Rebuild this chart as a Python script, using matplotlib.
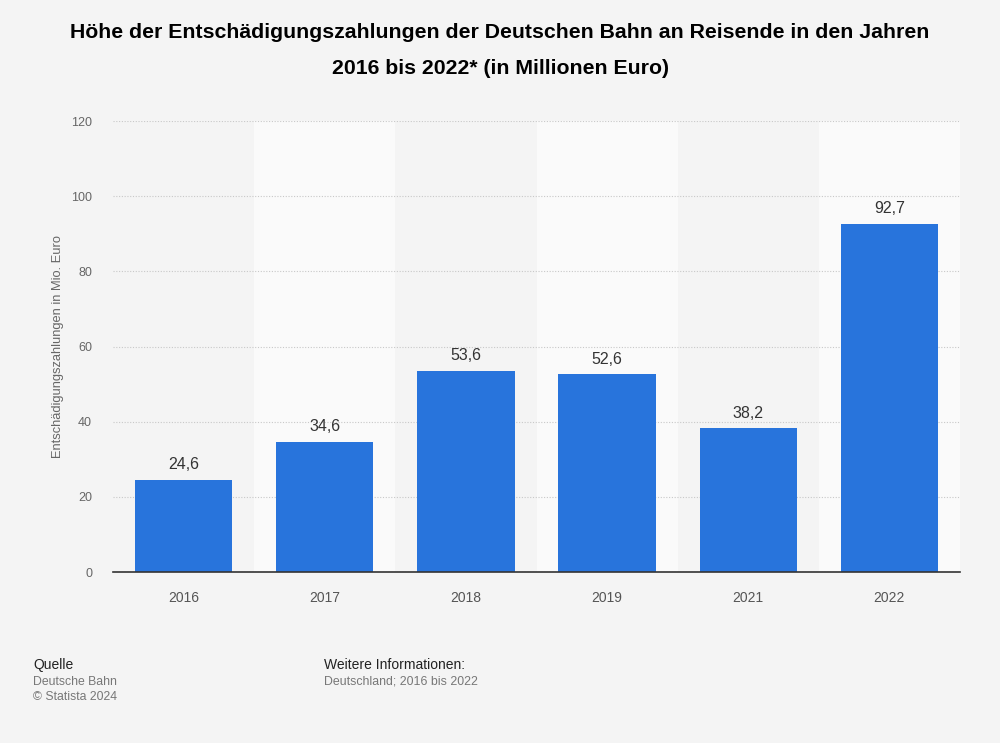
import matplotlib.pyplot as plt
import numpy as np

plt.rcParams['font.family'] = ['Liberation Sans', 'DejaVu Sans']

# Data
years = ["2016", "2017", "2018", "2019", "2021", "2022"]
payments = [24.6, 34.6, 53.6, 52.6, 38.2, 92.7]
yticks = [0, 20, 40, 60, 80, 100, 120]

bg = "#f4f4f4"
fig = plt.figure(figsize=(10, 7.43), dpi=100, facecolor=bg)
ax = fig.add_axes([0.113, 0.2301, 0.847, 0.607])
ax.set_facecolor(bg)

x = np.arange(len(years))

# lighter bands behind every second category
for i in x:
    if i % 2 == 1:
        ax.axvspan(i - 0.5, i + 0.5, color="#fafafa", zorder=0, lw=0)

ax.bar(x, payments, 0.69, color="#2874dc", zorder=3)

for xi, v in zip(x, payments):
    ax.text(xi, v + 2.0, f"{v:.1f}".replace(".", ","), ha="center", va="bottom",
            fontsize=11.5, color="#333333", zorder=4)

ax.set_xlim(-0.5, len(years) - 0.5)
ax.set_ylim(0, 120)
ax.set_yticks(yticks)
ax.set_yticklabels([str(t) for t in yticks])
ax.set_xticks(x)
ax.set_xticklabels(years)
ax.tick_params(axis="x", length=0, pad=14, labelsize=10, labelcolor="#555555")
ax.tick_params(axis="y", length=0, pad=15, labelsize=9, labelcolor="#666666")
for lbl in ax.get_yticklabels():
    lbl.set_horizontalalignment("right")

ax.grid(axis="y", color="#c8c8c8", linestyle=(0, (1, 1.5)), linewidth=0.8, zorder=1)
ax.set_axisbelow(True)
for s in ["top", "right", "left"]:
    ax.spines[s].set_visible(False)
ax.spines["bottom"].set_color("#333333")
ax.spines["bottom"].set_linewidth(1.2)
ax.spines["bottom"].set_zorder(5)

ax.set_ylabel("Entschädigungszahlungen in Mio. Euro", fontsize=9.3, color="#666666")
ax.yaxis.set_label_coords(-0.058, 0.5)

fig.text(0.5, 1 - 33 / 743, "Höhe der Entschädigungszahlungen der Deutschen Bahn an Reisende in den Jahren",
         ha="center", va="center", fontsize=15.3, fontweight="bold", color="#000000")
fig.text(0.5, 1 - 69 / 743, "2016 bis 2022* (in Millionen Euro)",
         ha="center", va="center", fontsize=15.3, fontweight="bold", color="#000000")

fig.text(0.033, 1 - 665 / 743, "Quelle", fontsize=10, color="#222222", va="center")
fig.text(0.033, 1 - 682 / 743, "Deutsche Bahn", fontsize=8.8, color="#777777", va="center")
fig.text(0.033, 1 - 697 / 743, "© Statista 2024", fontsize=8.8, color="#777777", va="center")
fig.text(0.324, 1 - 665 / 743, "Weitere Informationen:", fontsize=10, color="#222222", va="center")
fig.text(0.324, 1 - 682 / 743, "Deutschland; 2016 bis 2022", fontsize=8.9, color="#777777", va="center")

fig.savefig("out.png", dpi=100, facecolor=bg)
